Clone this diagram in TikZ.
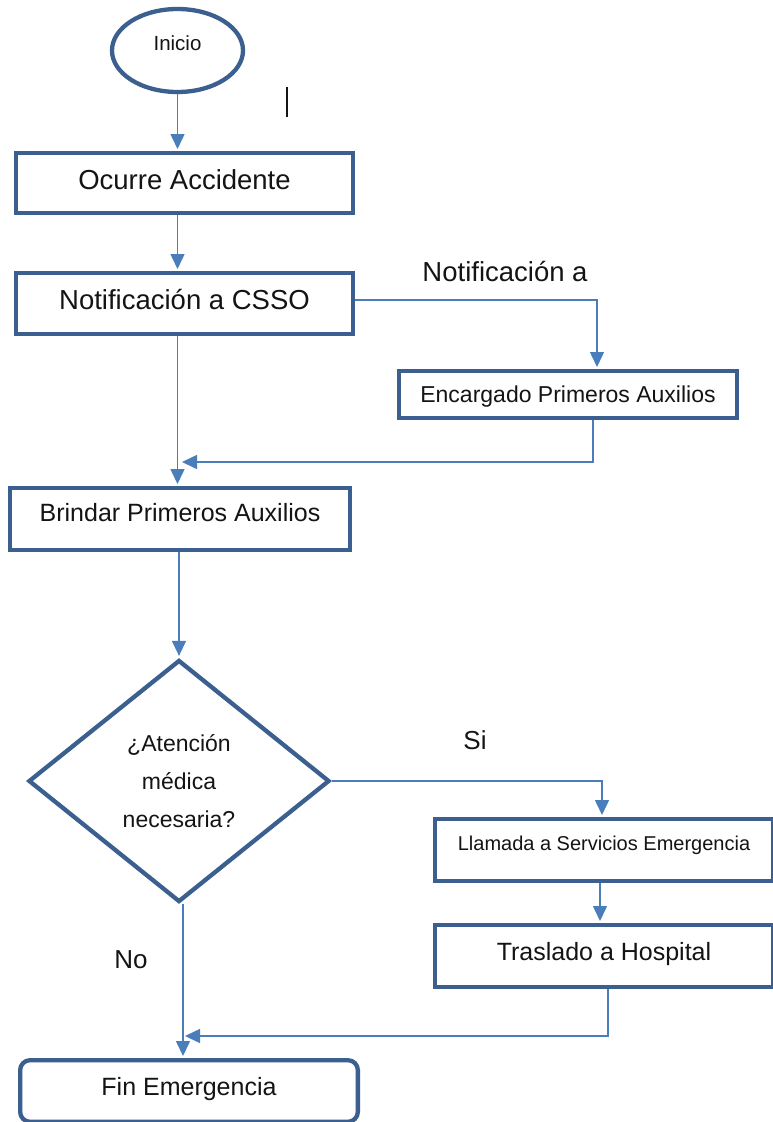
\documentclass[tikz,border=0pt]{standalone}
\usepackage{fontspec}
\setmainfont{Liberation Sans}
\usepackage{tikz}
\usetikzlibrary{shapes.geometric,arrows.meta,calc}
\definecolor{edge}{HTML}{3B5F8E}
\definecolor{wire}{HTML}{4A7EBB}
\definecolor{ink}{HTML}{141414}
\tikzset{
  box/.style={draw=edge, line width=4.3pt, fill=white, text=ink, inner sep=0pt},
  term/.style={box, ellipse},
  decision/.style={box, diamond, align=center},
  con/.style={draw=wire, line width=1.5pt, shorten >=2pt, -{Triangle[length=15pt,width=14pt]}},
  lab/.style={text=ink, inner sep=0pt},
}

\begin{document}
\begin{tikzpicture}[x=1pt,y=-1pt]
  \useasboundingbox (0,0) rectangle (772,1122);
  \node[term, minimum width=131pt, minimum height=83pt, text height=14.7pt, text depth=15pt,
        font=\fontsize{20.5}{25}\selectfont] (inicio) at (177.5,50.5) {Inicio};
  \draw[ink, line width=1.3pt] (287,87) -- (287,117);
  \node[box, minimum width=336.7pt, minimum height=59.7pt, text height=19.7pt, text depth=6pt,
        font=\fontsize{27.5}{33}\selectfont] (ocurre) at (184.5,183) {Ocurre Accidente};
  \node[box, minimum width=336.7pt, minimum height=60.7pt, text height=19.7pt, text depth=7pt,
        font=\fontsize{27.5}{33}\selectfont] (notif) at (184.5,303.5) {Notificación a CSSO};
  \node[lab, font=\fontsize{27.5}{33}\selectfont] (notiflab) at (505,272) {Notificación a};
  \node[box, minimum width=337.7pt, minimum height=46.7pt, text height=16.5pt, text depth=0pt,
        font=\fontsize{23}{28}\selectfont] (enc) at (568,394.5) {Encargado Primeros Auxilios};
  \coordinate (m1) at (180,462);
  \node[box, minimum width=339.7pt, minimum height=61.7pt, text height=17.9pt, text depth=12pt,
        font=\fontsize{25}{30}\selectfont] (brindar) at (180,519) {Brindar Primeros Auxilios};
  \node[decision, minimum width=301pt, minimum height=242pt,
        font=\fontsize{23}{38}\selectfont] (dec) at (179,781) {¿Atención\\médica\\necesaria?};
  \node[lab, font=\fontsize{26}{31}\selectfont] (si) at (475,740) {Si};
  \node[lab, font=\fontsize{26}{31}\selectfont] (no) at (131,960) {No};
  \node[box, minimum width=337.7pt, minimum height=61.7pt, text height=14.3pt, text depth=14pt,
        font=\fontsize{20}{24}\selectfont] (llamada) at (604,850) {Llamada a Servicios Emergencia};
  \node[box, minimum width=337.7pt, minimum height=61.7pt, text height=17.9pt, text depth=8pt,
        font=\fontsize{25}{30}\selectfont] (traslado) at (604,956) {Traslado a Hospital};
  \coordinate (m2) at (183,1036);
  \node[box, rounded corners=10pt, minimum width=337.7pt, minimum height=61.7pt, text height=17.9pt,
        text depth=8pt, font=\fontsize{25}{30}\selectfont] (fin) at (189,1091) {Fin Emergencia};

  \draw[con] (inicio.south) -- (inicio.south |- ocurre.north);
  \draw[con] (ocurre.south -| inicio.south) -- (inicio.south |- notif.north);
  \draw[con] ([yshift=3.5pt]notif.east) -| ([xshift=29pt]enc.north);
  \draw[con] ([xshift=25pt]enc.south) |- (m1);
  \draw[con] (notif.south -| inicio.south) -- (inicio.south |- brindar.north);
  \draw[con] (brindar.south -| dec.north) -- (dec.north);
  \draw[con] (dec.east) -| ([xshift=-2pt]llamada.north);
  \draw[con] ([xshift=-4pt]llamada.south) -- ([xshift=-4pt]traslado.north);
  \draw[con] ([xshift=4pt]traslado.south) |- (m2);
  \draw[con] ([xshift=4pt]dec.south) -- ([xshift=4pt]dec.south |- fin.north);
\end{tikzpicture}
\end{document}
